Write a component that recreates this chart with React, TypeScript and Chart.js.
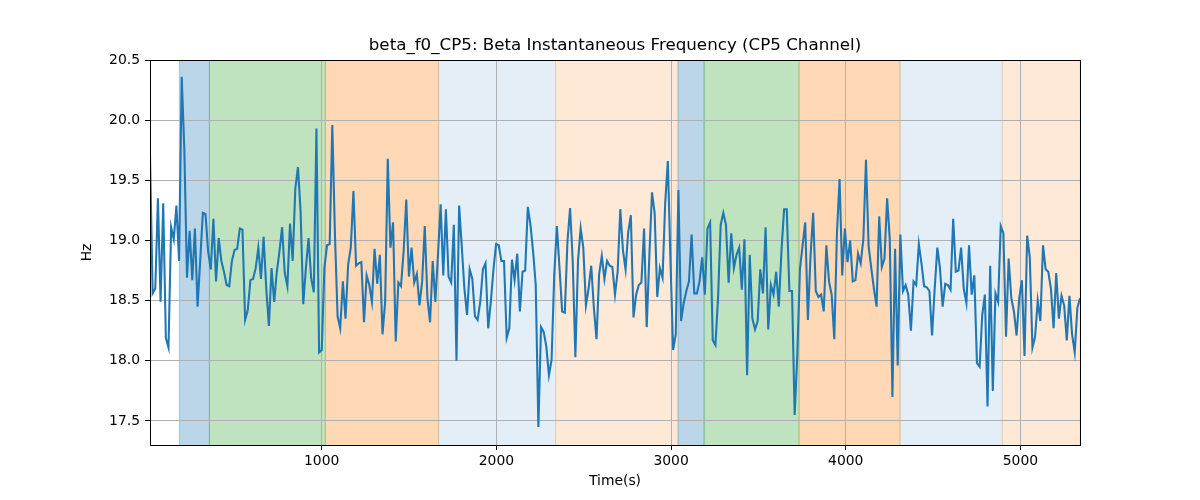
import { useEffect, useRef } from "react";
import { Chart, registerables } from "chart.js";

Chart.register(...registerables);

const TITLE = "beta_f0_CP5: Beta Instantaneous Frequency (CP5 Channel)";
const X_LABEL = "Time(s)";
const Y_LABEL = "Hz";

const T_START = 17;
const T_STEP = 15.125;
const X_MIN = 17;
const X_MAX = 5341;
const Y_MIN = 17.3;
const Y_MAX = 20.5;
const X_TICKS = [1000, 2000, 3000, 4000, 5000];
const Y_TICKS = [17.5, 18.0, 18.5, 19.0, 19.5, 20.0, 20.5];

const FREQ = [
  19.71, 18.56, 18.60, 19.35, 18.49, 19.31, 18.19, 18.11, 19.11, 19.01,
  19.29, 18.83, 20.36, 19.75, 18.69, 19.08, 18.67, 19.10, 18.45, 18.83,
  19.23, 19.22, 18.91, 18.76, 19.18, 18.66, 19.02, 18.83, 18.74, 18.63,
  18.62, 18.83, 18.92, 18.93, 19.10, 19.09, 18.34, 18.42, 18.67, 18.68,
  18.77, 18.94, 18.68, 19.03,
  18.60, 18.29, 18.77, 18.49, 18.74, 18.91, 19.11, 18.73, 18.62, 19.14,
  18.83, 19.43, 19.61, 19.24, 18.47, 18.77, 19.02, 18.69, 18.57, 19.93,
  18.07, 18.09, 18.77, 18.96, 18.97, 19.96, 19.05, 18.37, 18.27, 18.66,
  18.35, 18.80, 18.94, 19.41, 18.79, 18.81, 18.82, 18.32, 18.71, 18.63,
  18.49, 18.93, 18.64, 18.88,
  18.22, 18.49, 19.68, 18.94, 19.15, 18.16, 18.65, 18.62, 18.91, 19.34,
  18.70, 18.94, 18.65, 18.72, 18.46, 18.66, 19.12, 18.52, 18.32, 18.83,
  18.49, 18.88, 19.30, 18.71, 19.26, 18.70, 18.65, 19.13, 18.00, 19.29,
  18.95, 18.60, 18.38, 18.76, 18.68, 18.37, 18.34, 18.49, 18.76, 18.81,
  18.27, 18.49, 18.76,
  18.97, 18.96, 18.83, 18.83, 18.19, 18.27, 18.84, 18.67, 18.89, 18.41,
  18.74, 18.75, 19.28, 19.13, 18.91, 18.63, 17.45, 18.28, 18.24, 18.12,
  17.88, 18.01, 18.71, 19.12, 18.77, 18.41, 18.40, 18.99, 19.27, 18.83,
  18.03, 18.83, 19.10, 18.94, 18.46, 18.60, 18.79, 18.44, 18.18, 18.72,
  18.87, 18.68, 18.83,
  18.79, 18.78, 18.55, 18.74, 19.26, 18.92, 18.76, 19.07, 19.21, 18.36,
  18.55, 18.63, 18.65, 19.10, 18.28, 18.87, 19.40, 19.23, 18.53, 18.77,
  18.69, 19.31, 19.66, 18.83, 18.09, 18.22, 19.42, 18.33, 18.48, 18.58,
  18.66, 19.05, 18.56, 18.56, 18.66, 18.86, 18.55, 19.10, 19.15, 18.17,
  18.13, 18.52, 19.13, 19.23,
  19.13, 18.65, 19.06, 18.77, 18.88, 18.94, 18.59, 19.01, 17.88, 18.88,
  18.35, 18.26, 18.33, 18.76, 18.56, 19.11, 18.26, 18.63, 18.55, 18.74,
  18.45, 18.91, 19.26, 19.26, 18.58, 18.58, 17.55, 18.05, 18.76, 18.96,
  19.15, 18.34, 18.87, 19.23, 18.58, 18.53, 18.55, 18.41, 18.96, 18.66,
  18.55, 18.18, 19.06, 19.51,
  18.71, 19.10, 18.82, 19.00, 18.66, 18.67, 18.89, 18.81, 19.01, 19.67,
  18.95, 18.77, 18.60, 18.45, 19.20, 18.78, 18.85, 19.35, 19.01, 17.70,
  18.93, 17.96, 19.05, 18.58, 18.63, 18.55, 18.25, 18.66, 18.63, 18.97,
  18.81, 18.62, 18.61, 18.58, 18.21, 18.60, 18.94, 18.77, 18.45, 18.64,
  18.63, 18.59, 19.18,
  18.74, 18.75, 18.94, 18.60, 18.48, 18.96, 18.55, 18.71, 17.98, 17.95,
  18.38, 18.55, 17.62, 18.79, 17.75, 18.56, 18.49, 19.12, 19.06, 18.20,
  18.85, 18.52, 18.41, 18.21, 18.52, 18.67, 18.04, 19.04, 18.86, 18.11,
  18.20, 18.50, 18.33, 18.96, 18.76, 18.74, 18.60, 18.27, 18.73, 18.35,
  18.54, 18.46, 18.17, 18.54, 18.22, 18.07, 18.44, 18.52,
];

const SPAN_START = [185, 357, 1021, 1669, 2339, 3040, 3189, 3733, 4311, 4896];
const SPAN_END = [357, 1021, 1669, 2339, 3040, 3189, 3733, 4311, 4896, 5341];
const SPAN_KIND = ["blue", "green", "orange", "paleBlue", "paleOrange", "blue", "green", "orange", "paleBlue", "paleOrange"];

const SPAN_COLORS: Record<string, string> = {
  blue: "rgba(31,119,180,0.3)",
  green: "rgba(44,160,44,0.3)",
  orange: "rgba(255,127,14,0.3)",
  paleBlue: "rgba(31,119,180,0.12)",
  paleOrange: "rgba(250,140,50,0.2)",
};

const FONT = "DejaVu Sans";

const spansPlugin = {
  id: "spans",
  beforeDraw(chart: any) {
    const { ctx, chartArea, scales } = chart;
    const xs = scales.x;
    ctx.save();
    ctx.beginPath();
    ctx.rect(chartArea.left, chartArea.top, chartArea.right - chartArea.left, chartArea.bottom - chartArea.top);
    ctx.clip();
    for (let i = 0; i < SPAN_START.length; i++) {
      const x0 = xs.getPixelForValue(SPAN_START[i]);
      const x1 = xs.getPixelForValue(SPAN_END[i]);
      const c = SPAN_COLORS[SPAN_KIND[i]];
      ctx.fillStyle = c;
      ctx.fillRect(x0, chartArea.top, x1 - x0, chartArea.bottom - chartArea.top);
      ctx.strokeStyle = c;
      ctx.lineWidth = 1;
      ctx.beginPath();
      ctx.moveTo(x0, chartArea.top);
      ctx.lineTo(x0, chartArea.bottom);
      ctx.moveTo(x1, chartArea.top);
      ctx.lineTo(x1, chartArea.bottom);
      ctx.stroke();
    }
    ctx.restore();
  },
  afterDraw(chart: any) {
    const { ctx, chartArea } = chart;
    ctx.save();
    ctx.strokeStyle = "#000";
    ctx.lineWidth = 1;
    ctx.strokeRect(
      Math.round(chartArea.left) + 0.5,
      Math.round(chartArea.top) + 0.5,
      Math.round(chartArea.right) - Math.round(chartArea.left),
      Math.round(chartArea.bottom) - Math.round(chartArea.top)
    );
    ctx.fillStyle = "#000";
    ctx.font = `16.7px "${FONT}"`;
    ctx.textAlign = "center";
    ctx.textBaseline = "middle";
    ctx.fillText(TITLE, (chartArea.left + chartArea.right) / 2, 46);
    ctx.restore();
  },
};

export default function App() {
  const ref = useRef<HTMLCanvasElement | null>(null);

  useEffect(() => {
    if (!ref.current) return;
    const data = FREQ.map((v, i) => ({ x: T_START + i * T_STEP, y: v }));
    const chart = new Chart(ref.current, {
      type: "line",
      data: {
        datasets: [
          {
            data,
            borderColor: "#1f77b4",
            borderWidth: 2.08,
            pointRadius: 0,
            tension: 0,
            fill: false,
          },
        ],
      },
      options: {
        responsive: false,
        animation: false,
        maintainAspectRatio: false,
        layout: { padding: { left: 0, right: 120, top: 60, bottom: 0 } },
        plugins: {
          legend: { display: false },
          tooltip: { enabled: false },
          title: { display: false },
        },
        scales: {
          x: {
            type: "linear",
            min: X_MIN,
            max: X_MAX,
            afterBuildTicks: (s: any) => {
              s.ticks = X_TICKS.map((v) => ({ value: v }));
            },
            afterFit: (s: any) => {
              s.height = 55;
            },
            grid: {
              color: "#b0b0b0",
              lineWidth: 1,
              tickColor: "#000",
              tickLength: 5,
              drawTicks: true,
            },
            border: { display: false },
            ticks: {
              color: "#000",
              font: { family: FONT, size: 13.9 },
              padding: 3,
              maxRotation: 0,
              autoSkip: false,
              callback: (v: any) => String(v),
            },
            title: {
              display: true,
              text: X_LABEL,
              color: "#000",
              font: { family: FONT, size: 13.9 },
              padding: { top: 0, bottom: 10 },
            },
          },
          y: {
            type: "linear",
            min: Y_MIN,
            max: Y_MAX,
            afterBuildTicks: (s: any) => {
              s.ticks = Y_TICKS.map((v) => ({ value: v }));
            },
            afterFit: (s: any) => {
              s.width = 150;
            },
            grid: {
              color: "#b0b0b0",
              lineWidth: 1,
              tickColor: "#000",
              tickLength: 5,
              drawTicks: true,
            },
            border: { display: false },
            ticks: {
              color: "#000",
              font: { family: FONT, size: 13.9 },
              padding: 5,
              autoSkip: false,
              callback: (v: any) => Number(v).toFixed(1),
            },
            title: {
              display: true,
              text: Y_LABEL,
              color: "#000",
              font: { family: FONT, size: 13.9 },
              padding: { top: 79, bottom: 0 },
            },
          },
        },
      },
      plugins: [spansPlugin],
    });
    return () => chart.destroy();
  }, []);

  return (
    <div style={{ position: "absolute", left: 0, top: 0, width: 1200, height: 500, background: "#fff" }}>
      <canvas ref={ref} width={1200} height={500} style={{ display: "block" }} />
    </div>
  );
}
